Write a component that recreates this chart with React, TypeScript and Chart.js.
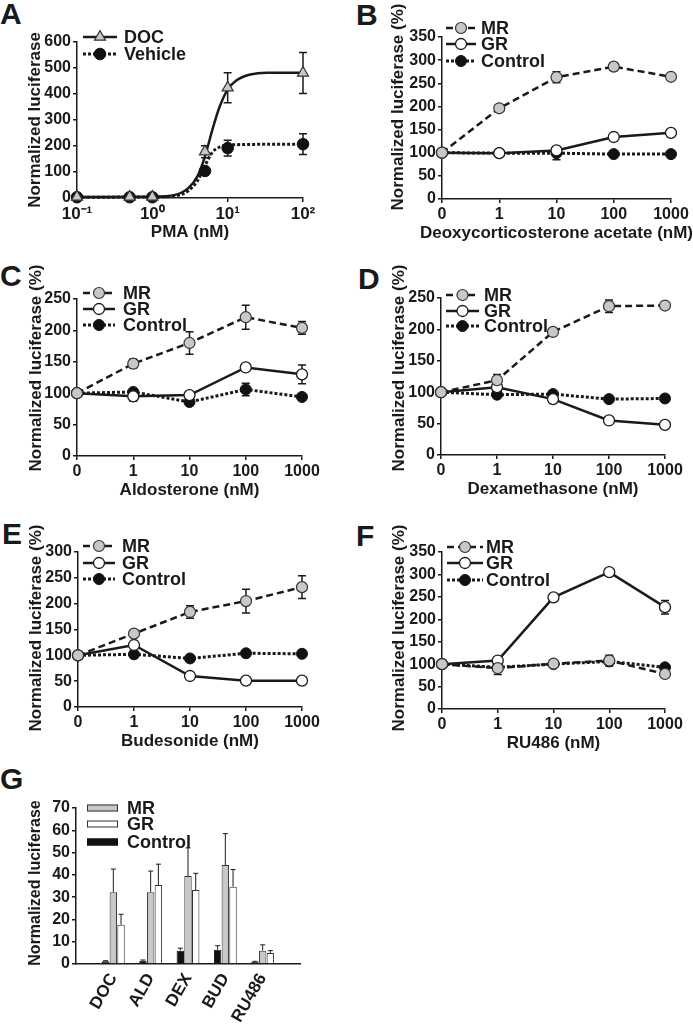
import React, { useEffect, useRef } from 'react';
import { Chart, registerables } from 'chart.js';
Chart.register(...registerables);

const FONT = '"Liberation Sans", Arial, Helvetica, sans-serif';
const INK = '#1a1a1a';
const MR_FILL = '#c8c8c8';

// ---------- Panel A (PMA dose response) ----------
const pmaDoses = [0.1, 0.5, 1, 5, 10, 100];
const docValues = [4, 4, 4, 178, 424, 481];
const docErrors = [0, 0, 0, 23, 58, 79];
const vehicleValues = [3, 3, 3, 104, 192, 207];
const vehicleErrors = [0, 0, 0, 8, 30, 40];
// fitted curves
const docFitDoses = [0.1, 1, 2, 3, 4, 5, 6.3, 7.8, 10, 13, 20, 33, 100];
const docFitValues = [4, 5, 12, 38, 85, 160, 265, 350, 417, 452, 475, 482, 482];
const vehicleFitDoses = [0.1, 1, 2, 3, 4, 5, 6.3, 7.8, 10, 20, 100];
const vehicleFitValues = [3, 4, 8, 28, 68, 125, 177, 196, 203, 206, 207];
const pmaTicks = [0.1, 1, 10, 100];
const pmaTickLabels = ['10⁻¹', '10⁰', '10¹', '10²'];

// ---------- Panels B-F ----------
const doseLabels = ['0', '1', '10', '100', '1000'];

const docMR = [100, 196, 263, 286, 264];
const docMRErr = [0, 4, 12, 8, 4];
const docGR = [100, 99, 105, 134, 143];
const docGRErr = [0, 3, 6, 8, 5];
const docCtl = [100, 99, 99, 97, 97];
const docCtlErr = [0, 3, 14, 4, 4];

const aldMR = [100, 147, 180, 221, 204];
const aldMRErr = [0, 7, 18, 19, 10];
const aldGR = [100, 95, 97, 141, 130];
const aldGRErr = [0, 8, 3, 4, 15];
const aldCtl = [100, 102, 86, 106, 94];
const aldCtlErr = [0, 4, 4, 10, 4];

const dexMR = [100, 119, 196, 237, 238];
const dexMRErr = [0, 9, 4, 10, 3];
const dexGR = [100, 108, 89, 55, 48];
const dexGRErr = [0, 3, 3, 3, 3];
const dexCtl = [100, 96, 97, 89, 90];
const dexCtlErr = [0, 3, 3, 3, 6];

const budMR = [100, 142, 184, 205, 232];
const budMRErr = [0, 6, 12, 23, 22];
const budGR = [100, 120, 60, 51, 51];
const budGRErr = [0, 4, 4, 3, 3];
const budCtl = [100, 102, 94, 104, 103];
const budCtlErr = [0, 3, 3, 3, 3];

const ruMR = [100, 91, 101, 108, 78];
const ruMRErr = [0, 14, 8, 12, 6];
const ruGR = [100, 108, 249, 305, 227];
const ruGRErr = [0, 4, 8, 6, 15];
const ruCtl = [100, 93, 100, 106, 93];
const ruCtlErr = [0, 4, 4, 8, 3];

// ---------- Panel G ----------
const gCategories = ['DOC', 'ALD', 'DEX', 'BUD', 'RU486'];
const gMR = [32.2, 32.2, 39.5, 44.4, 6.0];
const gMRErr = [10.4, 9.5, 12.6, 14.1, 2.6];
const gGR = [17.6, 35.4, 33.2, 34.7, 4.9];
const gGRErr = [4.7, 9.4, 7.5, 7.7, 1.1];
const gCtl = [1.2, 1.5, 6.0, 6.4, 1.0];
const gCtlErr = [0.3, 0.3, 1.1, 1.8, 0.2];

// ---------- layout helpers ----------
type Area = { left: number; top: number; right: number; bottom: number };
type Frame = { left: number; top: number; width: number; height: number; area: Area };
type LegendItem = { label: string; line: number; point: number };
type LegendSpec = { rows: number[]; x0: number; x1: number; textX: number; kind: 'line' | 'bar'; items: LegendItem[] };
type TitleSpec = { x?: string; y: string; yX: number; yY: number; ySize?: number };

const tickFont = { family: FONT, size: 16, weight: 'bold' as const };

const frames: Record<string, Frame> = {
  A: { left: 0, top: 0, width: 346, height: 247, area: { left: 77, top: 42, right: 303, bottom: 198 } },
  B: { left: 346, top: 0, width: 347, height: 248, area: { left: 442, top: 37, right: 671, bottom: 199 } },
  C: { left: 0, top: 250, width: 346, height: 255, area: { left: 77, top: 299, right: 302, bottom: 456 } },
  D: { left: 346, top: 250, width: 347, height: 254, area: { left: 441, top: 298, right: 665, bottom: 455 } },
  E: { left: 0, top: 505, width: 346, height: 251, area: { left: 78, top: 552, right: 302, bottom: 707 } },
  F: { left: 346, top: 505, width: 347, height: 253, area: { left: 442, top: 552, right: 665, bottom: 709 } },
  G: { left: 0, top: 760, width: 346, height: 264, area: { left: 76, top: 808, right: 300, bottom: 964 } },
};

function layoutOf(f: Frame) {
  return {
    autoPadding: false,
    padding: { left: 0, top: f.area.top - f.top, right: f.left + f.width - f.area.right, bottom: 0 },
  };
}

function yScale(f: Frame, max: number, step: number) {
  const w = f.area.left - f.left;
  return {
    type: 'linear',
    position: 'left',
    min: 0,
    max,
    border: { color: INK, width: 1.5 },
    grid: { drawOnChartArea: false, drawTicks: true, tickLength: 4, color: INK, lineWidth: 1.5 },
    ticks: { stepSize: step, padding: 2, color: INK, font: tickFont },
    afterFit: (s: any) => {
      s.width = w;
      s.paddingTop = 0;
      s.paddingBottom = 0;
    },
  };
}

function xFit(f: Frame) {
  const h = f.top + f.height - f.area.bottom;
  return (s: any) => {
    s.height = h;
    s.paddingLeft = 0;
    s.paddingRight = 0;
  };
}

function drawMarker(ctx: CanvasRenderingContext2D, ds: any, x: number, y: number) {
  const r = ds.pointRadius;
  ctx.beginPath();
  if (ds.pointStyle === 'triangle') {
    let rad = 0;
    for (let k = 0; k < 3; k++) {
      const px = x + Math.sin(rad) * r;
      const py = y - Math.cos(rad) * r;
      if (k === 0) ctx.moveTo(px, py);
      else ctx.lineTo(px, py);
      rad += (2 * Math.PI) / 3;
    }
    ctx.closePath();
  } else {
    ctx.arc(x, y, r, 0, Math.PI * 2);
  }
  ctx.fillStyle = ds.pointBackgroundColor;
  ctx.fill();
  ctx.lineWidth = ds.pointBorderWidth;
  ctx.strokeStyle = ds.pointBorderColor;
  ctx.stroke();
}

function panelPlugin(f: Frame, titles: TitleSpec, legend: LegendSpec, errorsAfter: boolean) {
  const ox = f.left;
  const oy = f.top;
  const drawErrors = (chart: any) => {
    const ctx: CanvasRenderingContext2D = chart.ctx;
    chart.data.datasets.forEach((ds: any, di: number) => {
      const errs = ds.errors;
      if (!errs) return;
      const meta = chart.getDatasetMeta(di);
      const ys = chart.scales[meta.yAxisID];
      ctx.save();
      ctx.strokeStyle = INK;
      ctx.lineWidth = ds.errorWidth || 1.5;
      ctx.setLineDash([]);
      meta.data.forEach((el: any, i: number) => {
        const v = ds.data[i];
        const e = errs[i];
        if (v == null || !e) return;
        const val = typeof v === 'object' ? v.y : v;
        const x = el.x;
        const cap = ds.errorCap || 4;
        const yTop = ys.getPixelForValue(val + e);
        const yBot = ds.errorUpOnly ? el.y : ys.getPixelForValue(val - e);
        ctx.beginPath();
        ctx.moveTo(x, yTop);
        ctx.lineTo(x, yBot);
        ctx.moveTo(x - cap, yTop);
        ctx.lineTo(x + cap, yTop);
        if (!ds.errorUpOnly) {
          ctx.moveTo(x - cap, yBot);
          ctx.lineTo(x + cap, yBot);
        }
        ctx.stroke();
      });
      ctx.restore();
    });
  };
  return {
    id: 'panelDecor',
    beforeDatasetsDraw(chart: any) {
      if (!errorsAfter) drawErrors(chart);
    },
    afterDatasetsDraw(chart: any) {
      if (errorsAfter) drawErrors(chart);
    },
    afterDraw(chart: any) {
      const ctx: CanvasRenderingContext2D = chart.ctx;
      const a = chart.chartArea;
      ctx.save();
      ctx.fillStyle = INK;
      ctx.textAlign = 'center';
      ctx.textBaseline = 'middle';
      ctx.font = `bold 17px ${FONT}`;
      if (titles.x) ctx.fillText(titles.x, (a.left + a.right) / 2, a.bottom + 34);
      ctx.save();
      ctx.translate(titles.yX - ox, titles.yY - oy);
      ctx.rotate(-Math.PI / 2);
      ctx.font = `bold ${titles.ySize || 17}px ${FONT}`;
      ctx.fillText(titles.y, 0, 0);
      ctx.restore();

      legend.items.forEach((it, k) => {
        const y = legend.rows[k] - oy;
        const x0 = legend.x0 - ox;
        const x1 = legend.x1 - ox;
        const lds = chart.data.datasets[it.line];
        const pds = chart.data.datasets[it.point];
        if (legend.kind === 'bar') {
          ctx.fillStyle = lds.backgroundColor;
          ctx.fillRect(x0, y - 3.5, x1 - x0, 7);
          ctx.strokeStyle = lds.borderColor;
          ctx.lineWidth = 1;
          ctx.strokeRect(x0 + 0.5, y - 3, x1 - x0 - 1, 6);
        } else {
          ctx.setLineDash(lds.borderDash || []);
          ctx.lineWidth = lds.borderWidth;
          ctx.strokeStyle = lds.borderColor;
          ctx.beginPath();
          ctx.moveTo(x0, y);
          ctx.lineTo(x1, y);
          ctx.stroke();
          ctx.setLineDash([]);
          drawMarker(ctx, pds, (x0 + x1) / 2, y);
        }
        ctx.fillStyle = INK;
        ctx.textAlign = 'left';
        ctx.textBaseline = 'middle';
        ctx.font = `bold 18px ${FONT}`;
        ctx.fillText(it.label, legend.textX - ox, y + 1);
      });
      ctx.restore();
    },
  };
}

const baseOptions = {
  animation: false,
  responsive: false,
  maintainAspectRatio: false,
  devicePixelRatio: 1,
  events: [],
};

const mrStyle = {
  borderColor: INK,
  borderWidth: 2.5,
  borderDash: [7, 4],
  pointRadius: 5.5,
  pointBackgroundColor: MR_FILL,
  pointBorderColor: '#333',
  pointBorderWidth: 1.2,
};
const grStyle = {
  borderColor: INK,
  borderWidth: 2.5,
  borderDash: [],
  pointRadius: 5.5,
  pointBackgroundColor: '#ffffff',
  pointBorderColor: INK,
  pointBorderWidth: 1.3,
};
const ctlStyle = {
  borderColor: INK,
  borderWidth: 3,
  borderDash: [3, 2],
  pointRadius: 5.5,
  pointBackgroundColor: '#111111',
  pointBorderColor: '#111111',
  pointBorderWidth: 1,
};

function doseChart(
  key: string,
  yMax: number,
  xTitle: string,
  yTitleX: number,
  yTitleY: number,
  mr: number[], mrErr: number[],
  gr: number[], grErr: number[],
  ctl: number[], ctlErr: number[],
  legendPos: { rows: number[]; x0: number; x1: number; textX: number }
) {
  const f = frames[key];
  const common = { tension: 0, clip: false, fill: false };
  return {
    type: 'line',
    data: {
      labels: doseLabels,
      datasets: [
        { label: 'MR', data: mr, errors: mrErr, ...common, ...mrStyle },
        { label: 'GR', data: gr, errors: grErr, ...common, ...grStyle },
        { label: 'Control', data: ctl, errors: ctlErr, ...common, ...ctlStyle },
      ],
    },
    options: {
      ...baseOptions,
      layout: layoutOf(f),
      plugins: { legend: { display: false }, tooltip: { enabled: false } },
      scales: {
        x: {
          type: 'category',
          offset: false,
          border: { color: INK, width: 1.5 },
          grid: { drawOnChartArea: false, drawTicks: true, tickLength: 4, color: INK, lineWidth: 1.5 },
          ticks: { padding: 2, color: INK, font: tickFont, maxRotation: 0, autoSkip: false },
          afterFit: xFit(f),
        },
        y: yScale(f, yMax, 50),
      },
    },
    plugins: [
      panelPlugin(
        f,
        { x: xTitle, y: 'Normalized luciferase (%)', yX: yTitleX, yY: yTitleY },
        {
          ...legendPos,
          kind: 'line',
          items: [
            { label: 'MR', line: 0, point: 0 },
            { label: 'GR', line: 1, point: 1 },
            { label: 'Control', line: 2, point: 2 },
          ],
        },
        false
      ),
    ],
  };
}

function chartA() {
  const f = frames.A;
  const pts = (xs: number[], ys: number[]) => xs.map((x, i) => ({ x, y: ys[i] }));
  return {
    type: 'line',
    data: {
      datasets: [
        {
          label: 'DOC',
          data: pts(pmaDoses, docValues),
          errors: docErrors,
          showLine: false,
          clip: false,
          pointStyle: 'triangle',
          pointRadius: 6.4,
          pointBackgroundColor: MR_FILL,
          pointBorderColor: '#333',
          pointBorderWidth: 1.2,
        },
        {
          label: 'Vehicle',
          data: pts(pmaDoses, vehicleValues),
          errors: vehicleErrors,
          showLine: false,
          clip: false,
          pointStyle: 'circle',
          pointRadius: 5.8,
          pointBackgroundColor: '#111111',
          pointBorderColor: '#111111',
          pointBorderWidth: 1,
        },
        {
          label: 'DOC fit',
          data: pts(docFitDoses, docFitValues),
          borderColor: INK,
          borderWidth: 2.5,
          borderDash: [],
          pointRadius: 0,
          cubicInterpolationMode: 'monotone',
          clip: false,
        },
        {
          label: 'Vehicle fit',
          data: pts(vehicleFitDoses, vehicleFitValues),
          borderColor: INK,
          borderWidth: 3,
          borderDash: [3, 2],
          pointRadius: 0,
          cubicInterpolationMode: 'monotone',
          clip: false,
        },
      ],
    },
    options: {
      ...baseOptions,
      layout: layoutOf(f),
      plugins: { legend: { display: false }, tooltip: { enabled: false } },
      scales: {
        x: {
          type: 'logarithmic',
          min: 0.1,
          max: 100,
          border: { color: INK, width: 1.5 },
          grid: { drawOnChartArea: false, drawTicks: true, tickLength: 4, color: INK, lineWidth: 1.5 },
          ticks: {
            padding: 2,
            color: INK,
            font: { family: FONT, size: 17, weight: 'bold' },
            maxRotation: 0,
            autoSkip: false,
            callback: (v: any) => {
              const i = pmaTicks.indexOf(Number(v));
              return i >= 0 ? pmaTickLabels[i] : '';
            },
          },
          afterBuildTicks: (s: any) => {
            s.ticks = pmaTicks.map((value) => ({ value }));
          },
          afterFit: xFit(f),
        },
        y: yScale(f, 600, 100),
      },
    },
    plugins: [
      panelPlugin(
        f,
        { x: 'PMA (nM)', y: 'Normalized luciferase', yX: 35.5, yY: 120 },
        {
          rows: [37, 54],
          x0: 83,
          x1: 117,
          textX: 124,
          kind: 'line',
          items: [
            { label: 'DOC', line: 2, point: 0 },
            { label: 'Vehicle', line: 3, point: 1 },
          ],
        },
        false
      ),
    ],
  };
}

function chartG() {
  const f = frames.G;
  const pad = (arr: number[]) => [null, ...arr, null];
  const barCommon = { categoryPercentage: 0.62, barPercentage: 0.96, borderWidth: 1, errorUpOnly: true, errorCap: 2.5, errorWidth: 1 };
  return {
    type: 'bar',
    data: {
      labels: ['', ...gCategories, ''],
      datasets: [
        { label: 'Control', data: pad(gCtl), errors: pad(gCtlErr), backgroundColor: '#111111', borderColor: '#111111', ...barCommon },
        { label: 'MR', data: pad(gMR), errors: pad(gMRErr), backgroundColor: MR_FILL, borderColor: '#333333', ...barCommon },
        { label: 'GR', data: pad(gGR), errors: pad(gGRErr), backgroundColor: '#ffffff', borderColor: '#333333', ...barCommon },
      ],
    },
    options: {
      ...baseOptions,
      layout: layoutOf(f),
      plugins: { legend: { display: false }, tooltip: { enabled: false } },
      scales: {
        x: {
          type: 'category',
          offset: false,
          border: { color: INK, width: 1.5 },
          grid: { display: false, drawTicks: false },
          ticks: { padding: 6, color: INK, font: { family: FONT, size: 17, weight: 'bold' }, minRotation: 60, maxRotation: 60, autoSkip: false },
          afterFit: xFit(f),
        },
        y: yScale(f, 70, 10),
      },
    },
    plugins: [
      panelPlugin(
        f,
        { y: 'Normalized luciferase', yX: 36, yY: 883, ySize: 16 },
        {
          rows: [808, 824, 842],
          x0: 87,
          x1: 118,
          textX: 127,
          kind: 'bar',
          items: [
            { label: 'MR', line: 1, point: 1 },
            { label: 'GR', line: 2, point: 2 },
            { label: 'Control', line: 0, point: 0 },
          ],
        },
        true
      ),
    ],
  };
}

function ChartCanvas({ frame, make }: { frame: Frame; make: () => any }) {
  const ref = useRef<HTMLCanvasElement | null>(null);
  useEffect(() => {
    if (!ref.current) return;
    const chart = new Chart(ref.current, make());
    return () => chart.destroy();
  }, []);
  return (
    <canvas
      ref={ref}
      width={frame.width}
      height={frame.height}
      style={{ position: 'absolute', left: frame.left, top: frame.top, width: frame.width, height: frame.height }}
    />
  );
}

const panelLetters = [
  { t: 'A', x: 0, y: -1 },
  { t: 'B', x: 356, y: 0 },
  { t: 'C', x: 0, y: 261 },
  { t: 'D', x: 358, y: 264 },
  { t: 'E', x: 2, y: 519 },
  { t: 'F', x: 356, y: 521 },
  { t: 'G', x: 0, y: 764 },
];

export default function App() {
  return (
    <div style={{ position: 'absolute', left: 0, top: 0, width: 693, height: 1024, background: '#ffffff', overflow: 'hidden' }}>
      {panelLetters.map((p) => (
        <div
          key={p.t}
          style={{
            position: 'absolute',
            left: p.x,
            top: p.y,
            fontFamily: FONT,
            fontWeight: 'bold',
            fontSize: 30,
            lineHeight: '30px',
            color: INK,
          }}
        >
          {p.t}
        </div>
      ))}
      <ChartCanvas frame={frames.A} make={chartA} />
      <ChartCanvas
        frame={frames.B}
        make={() => doseChart('B', 350, 'Deoxycorticosterone acetate (nM)', 398, 107, docMR, docMRErr, docGR, docGRErr, docCtl, docCtlErr, { rows: [28, 44, 61], x0: 446, x1: 476, textX: 481 })}
      />
      <ChartCanvas
        frame={frames.C}
        make={() => doseChart('C', 250, 'Aldosterone (nM)', 36, 368, aldMR, aldMRErr, aldGR, aldGRErr, aldCtl, aldCtlErr, { rows: [293, 309, 325], x0: 83, x1: 115, textX: 123 })}
      />
      <ChartCanvas
        frame={frames.D}
        make={() => doseChart('D', 250, 'Dexamethasone (nM)', 399.5, 368, dexMR, dexMRErr, dexGR, dexGRErr, dexCtl, dexCtlErr, { rows: [295, 311, 326], x0: 446, x1: 479, textX: 484 })}
      />
      <ChartCanvas
        frame={frames.E}
        make={() => doseChart('E', 300, 'Budesonide (nM)', 36, 628, budMR, budMRErr, budGR, budGRErr, budCtl, budCtlErr, { rows: [546, 563, 579], x0: 83, x1: 115, textX: 122 })}
      />
      <ChartCanvas
        frame={frames.F}
        make={() => doseChart('F', 350, 'RU486 (nM)', 399, 628, ruMR, ruMRErr, ruGR, ruGRErr, ruCtl, ruCtlErr, { rows: [547, 563, 580], x0: 447, x1: 483, textX: 486 })}
      />
      <ChartCanvas frame={frames.G} make={chartG} />
    </div>
  );
}
